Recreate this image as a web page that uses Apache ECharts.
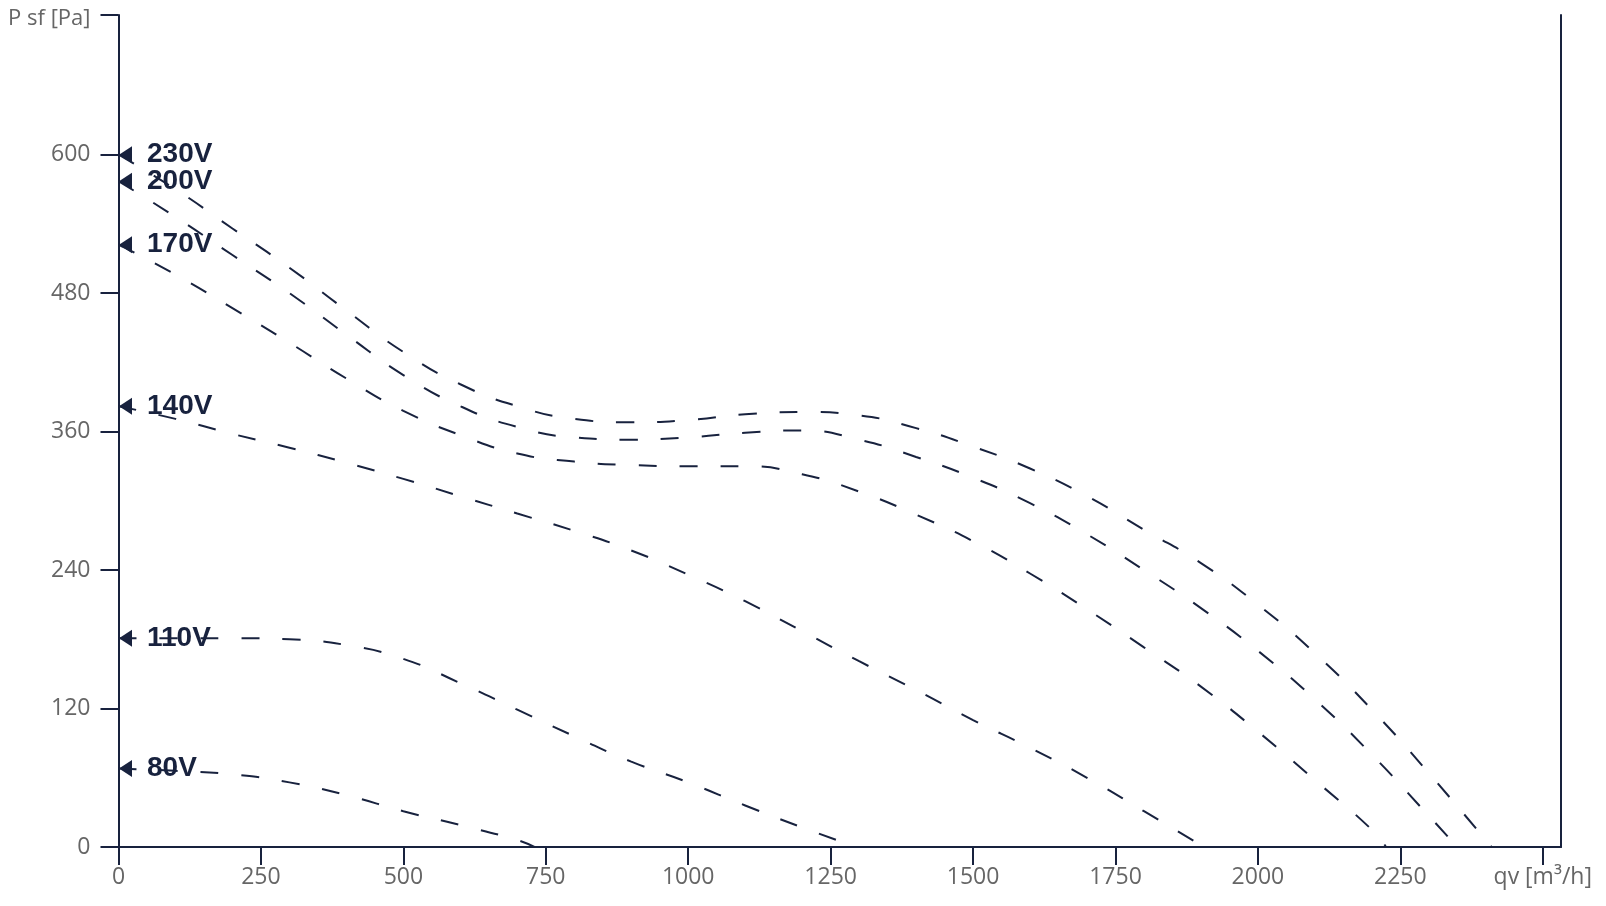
<!DOCTYPE html>
<html><head><meta charset="utf-8">
<script src="https://cdn.jsdelivr.net/npm/echarts@6/dist/echarts.min.js"></script>
<style>html,body{margin:0;padding:0;background:#fff}#c{width:1606px;height:906px}</style>
</head><body><div id="c"></div>
<script>
// Tick values and axis names
const xTicks = [0, 250, 500, 750, 1000, 1250, 1500, 1750, 2000, 2250, 2500];
const yTicks = [0, 120, 240, 360, 480, 600];
const xMax = 2532;
const yMax = 721;
const xName = 'qv [m³/h]';
const yName = 'P sf [Pa]';

// Fan curves: airflow qv [m3/h] and static pressure P sf [Pa]
const voltages = ['230V', '200V', '170V', '140V', '110V', '80V'];
const q230 = [0,100,200,300,400,500,600,700,800,900,1000,1100,1200,1300,1400,1500,1600,1700,1800,1900,2000,2100,2200,2300,2410];
const p230 = [600,570,536,502,465,429,401,382,371,368,370,375,377,374,363,347,328,304,275,246,210,168,119,64,0];
const q200 = [0,100,200,300,400,500,600,700,800,900,1000,1100,1200,1300,1400,1500,1600,1700,1800,1900,2000,2100,2200,2300,2350];
const p200 = [577,546,513,480,444,409,382,364,355,353,355,359,361,353,338,320,298,271,240,207,170,128,80,27,0];
const q170 = [0,100,200,300,400,500,600,700,800,900,1000,1100,1200,1300,1400,1500,1600,1700,1800,1900,2000,2100,2200,2225];
const p170 = [522,496,467,437,406,378,357,341,334,331,330,330,323,308,288,265,237,206,173,139,100,58,15,0];
const q140 = [0,100,200,300,400,500,600,700,800,900,1000,1100,1200,1300,1400,1500,1600,1700,1800,1905];
const p140 = [382,371,358,346,333,319,304,289,274,257,236,213,187,161,136,110,86,60,31,0];
const q110 = [0,100,200,300,400,500,600,700,800,900,1000,1100,1200,1295];
const p110 = [181,181,181,180,175,163,142,119,96,74,56,36,17,0];
const q80 = [0,100,200,300,400,500,600,700,730];
const p80 = [68,66,63,56,45,31,19,6,0];

const curves = [[q230,p230],[q200,p200],[q170,p170],[q140,p140],[q110,p110],[q80,p80]];

const navy = '#18223e';
const gray = '#666666';
const tickFont = 'Open Sans';

const chart = echarts.init(document.getElementById('c'));

const lineSeries = curves.map((c, i) => ({
  type: 'line',
  name: voltages[i],
  data: c[0].map((q, k) => [q, c[1][k]]),
  smooth: true,
  showSymbol: false,
  silent: true,
  z: 3,
  lineStyle: { color: navy, width: 2, type: [18, 23], opacity: 1 }
}));

const markerSeries = {
  type: 'scatter',
  silent: true,
  z: 2,
  symbol: 'path://M0,6 L12,0 L12,12 Z',
  symbolSize: [13, 17],
  symbolOffset: [7, 0],
  itemStyle: { color: navy, opacity: 1 },
  label: {
    show: true, position: 'right', distance: 15, opacity: 1,
    fontFamily: 'Liberation Sans', fontWeight: 'bold', fontSize: 28, color: navy
  },
  data: curves.map((c, i) => ({ value: [0, c[1][0]], label: { formatter: voltages[i] } }))
};

chart.setOption({
  animation: false,
  backgroundColor: '#fff',
  grid: { left: 118.5, right: 45, top: 15, bottom: 59, containLabel: false },
  xAxis: {
    type: 'value', min: 0, max: xMax,
    axisLine: { show: true, lineStyle: { color: navy, width: 2 } },
    axisTick: { show: true, length: 18, lineStyle: { color: navy, width: 2 }, customValues: xTicks },
    axisLabel: {
      show: true, customValues: xTicks, margin: 19, color: gray, fontSize: 23, fontFamily: tickFont,
      formatter: v => (v === 2500 ? xName : String(v))
    },
    splitLine: { show: false }
  },
  yAxis: [{
    type: 'value', min: 0, max: yMax,
    axisLine: { show: true, lineStyle: { color: navy, width: 2 } },
    axisTick: { show: true, length: 18, lineStyle: { color: navy, width: 2 }, customValues: yTicks.concat([yMax]) },
    axisLabel: {
      show: true, customValues: yTicks.concat([yMax]), margin: 28, color: gray, fontSize: 23, fontFamily: tickFont,
      formatter: v => (v === yMax ? '{n|' + yName + '}' : String(v)),
      rich: { n: { fontSize: 22, fontFamily: tickFont, color: gray, padding: [8, 0, 0, 0] } }
    },
    splitLine: { show: false }
  }, {
    type: 'value', min: 0, max: yMax, position: 'right',
    axisLine: { show: true, lineStyle: { color: navy, width: 2 } },
    axisTick: { show: false }, axisLabel: { show: false }, splitLine: { show: false }
  }],
  series: [markerSeries].concat(lineSeries)
});
</script>
</body></html>
